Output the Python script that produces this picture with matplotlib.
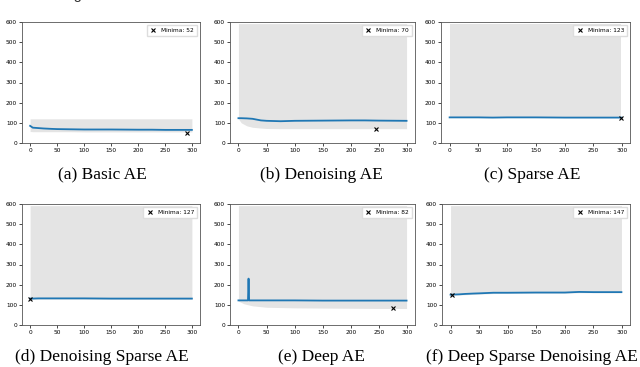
import matplotlib
matplotlib.use("Agg")
import matplotlib.pyplot as plt
import numpy as np

# titres des sous-figures
titles = ["(a) Basic AE", "(b) Denoising AE", "(c) Sparse AE",
          "(d) Denoising Sparse AE", "(e) Deep AE", "(f) Deep Sparse Denoising AE"]

# epoques echantillonnees
ep = [0, 5, 15, 25, 40, 50, 75, 100, 150, 200, 225, 250, 299]

# moyenne de la perte
mean_a = [85, 76, 74, 72, 70, 69, 68, 67, 67, 66, 66, 65, 65]
mean_b = [123, 123, 122, 120, 112, 110, 108, 110, 111, 112, 112, 111, 110]
mean_c = [127, 127, 127, 127, 127, 127, 126, 127, 127, 126, 126, 126, 126]
mean_d = [131, 131, 132, 132, 132, 132, 132, 132, 131, 131, 131, 131, 131]
mean_f = [150, 151, 152, 154, 156, 157, 160, 160, 161, 161, 164, 163, 163]
# (e) avec un pic vers l'epoque 18
ep_e = [0, 10, 17, 18, 19, 25, 50, 100, 150, 200, 250, 299]
mean_e = [122, 122, 122, 230, 122, 122, 122, 122, 121, 121, 121, 121]

# bornes de la bande grise
low_a = [57, 56, 56, 56, 56, 56, 56, 55, 55, 55, 55, 55, 55]
up_a = [120, 120, 120, 120, 120, 120, 120, 120, 120, 120, 120, 120, 120]
low_b = [120, 100, 85, 78, 74, 72, 71, 71, 71, 71, 71, 71, 71]
low_c = [123, 123, 123, 123, 123, 123, 123, 123, 123, 123, 123, 123, 123]
low_d = [128, 128, 128, 128, 128, 128, 128, 128, 127, 127, 127, 127, 127]
low_f = [148, 148, 149, 150, 152, 153, 156, 157, 158, 158, 160, 160, 160]
ep_le = [0, 10, 25, 50, 100, 150, 200, 250, 299]
low_e = [118, 105, 95, 88, 85, 84, 83, 82, 82]
up_top = 592

# minima
min_x = [290, 245, 298, 0, 275, 3]
min_y = [52, 70, 123, 127, 82, 147]

series = [
    (ep, mean_a, ep, low_a, up_a),
    (ep, mean_b, ep, low_b, None),
    (ep, mean_c, ep, low_c, None),
    (ep, mean_d, ep, low_d, None),
    (ep_e, mean_e, ep_le, low_e, None),
    (ep, mean_f, ep, low_f, None),
]

W, H = 640, 367
fig = plt.figure(figsize=(6.4, 3.67), dpi=100)

# positions en pixels (gauche, haut, droite, bas)
boxes = [(22, 22, 200, 143), (230, 22, 415, 143), (441, 22, 630, 143),
         (22, 204, 200, 325), (230, 204, 415, 325), (442, 204, 630, 325)]
cap_x = [102, 321, 532, 102, 321, 532]
cap_y = [175, 175, 175, 357, 357, 357]

for i in range(6):
    l, t, r, b = boxes[i]
    ax = fig.add_axes([l / W, 1 - b / H, (r - l) / W, (b - t) / H])
    x, m, xl, lo, up = series[i]
    if up is None:
        up = [up_top] * len(lo)
    ax.fill_between(xl, lo, up, color="#e4e4e4", linewidth=0)
    ax.plot(x, m, color="#1f77b4", linewidth=1.3)
    ax.plot([min_x[i]], [min_y[i]], "x", color="black", markersize=3,
            markeredgewidth=0.8, label="Minima: %d" % min_y[i])
    ax.set_ylim(0, 600)
    ax.set_xlim(-15, 314)
    ax.set_xticks([0, 50, 100, 150, 200, 250, 300])
    ax.set_yticks([0, 100, 200, 300, 400, 500, 600])
    ax.tick_params(labelsize=4.2, length=2, width=0.5, pad=1.5)
    for s in ax.spines.values():
        s.set_linewidth(0.6)
        s.set_color("#555555")
    ax.legend(loc="upper right", fontsize=4.2, handlelength=1.2,
              borderpad=0.5, fancybox=False, framealpha=1,
              edgecolor="#dddddd")
    fig.text(cap_x[i] / W, 1 - cap_y[i] / H, titles[i], ha="center",
             va="center", fontsize=12.5, family="Liberation Serif")

# texte coupe en haut de page (seul le bas des lettres est visible)
fig.text(0.0, 1 + 1 / H, "recordings of CHB-2010", fontsize=11,
         family="Liberation Mono", va="baseline", ha="left", color="#333333")

fig.savefig("out.png", dpi=100)
